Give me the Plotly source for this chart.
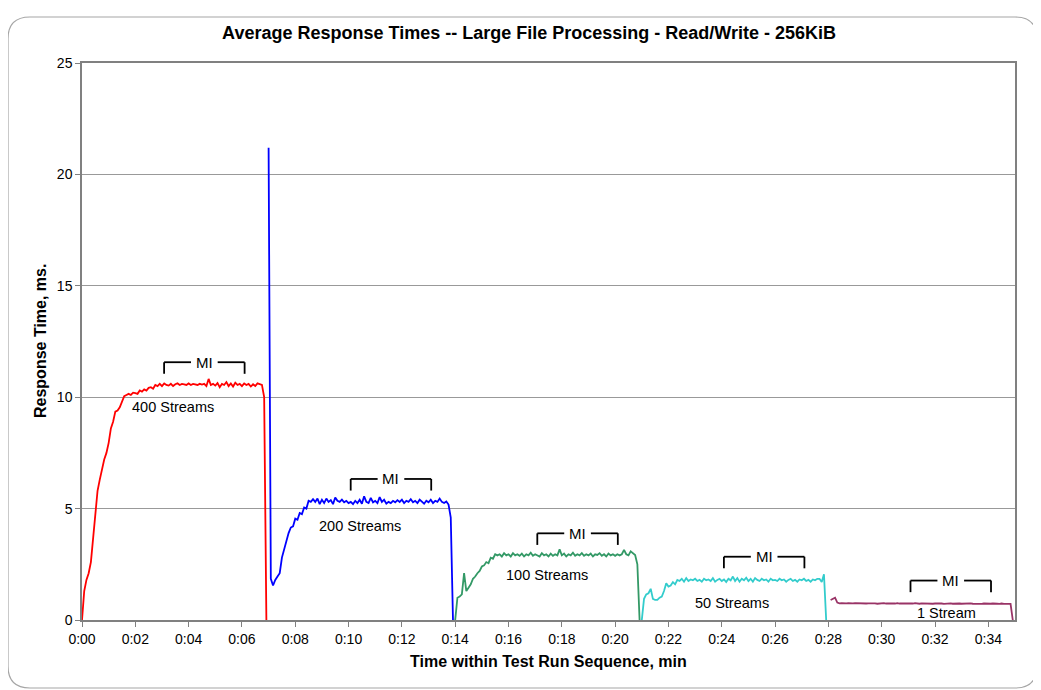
import plotly.graph_objects as go

# ---------------- data (5-second samples, minutes 0..6 of each 7-minute stage) ----------------
sample_step_s = 5
stage_length_min = 7

stream_names = ["400 Streams", "200 Streams", "100 Streams", "50 Streams", "1 Stream"]
stream_colors = ["#FF0000", "#0000FF", "#339966", "#33CCCC", "#993366"]

resp_400 = [
    0, 1.3, 1.8, 2.1, 2.6, 3.8, 5.0, 5.8, 6.3, 6.8, 7.2, 7.5,
    7.95, 8.6, 8.9, 9.35, 9.4, 9.55, 9.8, 10.05, 10.1, 10.15, 10.1, 10.2,
    10.18, 10.15, 10.3, 10.25, 10.35, 10.3, 10.42, 10.45, 10.38, 10.55, 10.5, 10.6,
    10.5, 10.62, 10.55, 10.52, 10.6, 10.5, 10.58, 10.62, 10.55, 10.6, 10.58, 10.55,
    10.62, 10.55, 10.6, 10.58, 10.55, 10.6, 10.57, 10.6, 10.5, 10.82, 10.55, 10.6,
    10.52, 10.63, 10.45, 10.6, 10.55, 10.68, 10.5, 10.62, 10.48, 10.65, 10.55, 10.6,
    10.5, 10.62, 10.55, 10.6, 10.48, 10.58, 10.5, 10.62, 10.6, 10.55, 10.0, 0,
]
resp_200 = [
    21.2, 1.85, 1.55, 1.8, 1.95, 2.1, 2.8, 3.2, 3.5, 3.9, 4.15, 4.2,
    4.55, 4.5, 4.8, 4.75, 5.05, 5.0, 5.35, 5.3, 5.42, 5.3, 5.45, 5.2,
    5.4, 5.25, 5.45, 5.3, 5.38, 5.2, 5.5, 5.35, 5.3, 5.4, 5.28, 5.35,
    5.25, 5.3, 5.2, 5.35, 5.25, 5.4, 5.22, 5.55, 5.3, 5.25, 5.48, 5.28,
    5.35, 5.25, 5.52, 5.3, 5.4, 5.22, 5.3, 5.25, 5.35, 5.28, 5.38, 5.3,
    5.4, 5.25, 5.35, 5.3, 5.42, 5.28, 5.35, 5.25, 5.4, 5.3, 5.22, 5.35,
    5.28, 5.4, 5.25, 5.35, 5.3, 5.45, 5.3, 5.25, 5.32, 5.18, 4.6, 0,
]
resp_100 = [
    0, 1.0, 1.05, 1.15, 2.1, 1.3, 1.45, 1.6, 1.85, 1.95, 2.1, 2.2,
    2.4, 2.45, 2.6, 2.55, 2.8, 2.75, 2.95, 2.9, 2.95, 2.85, 3.0, 2.9,
    2.95, 2.85, 3.0, 2.9, 2.95, 2.88, 2.98, 2.85, 2.95, 2.9, 3.02, 2.88,
    2.95, 2.9, 2.85, 3.0, 2.9, 2.95, 2.85, 2.98, 2.88, 2.95, 2.9, 3.17,
    2.9, 2.98, 2.85, 2.95, 2.9, 3.02, 2.88, 2.95, 2.9, 3.0, 2.88, 2.95,
    2.9, 2.98, 2.85, 2.95, 2.92, 3.0, 2.88, 2.95, 2.85, 2.98, 2.9, 2.95,
    2.88, 2.95, 2.9, 2.95, 3.15, 2.95, 2.9, 3.08, 3.0, 2.92, 2.5, 0,
]
resp_50 = [
    0, 0.95, 1.15, 1.2, 1.4, 0.95, 0.9, 0.9, 1.0, 1.05, 1.3, 1.65,
    1.5, 1.55, 1.7, 1.6, 1.8, 1.75, 1.85, 1.72, 1.88, 1.75, 1.82, 1.78,
    1.85, 1.75, 1.8, 1.72, 1.85, 1.78, 1.82, 1.75, 1.88, 1.72, 1.8, 1.85,
    1.75, 1.82, 1.7, 1.85, 1.78, 1.95, 1.75, 1.88, 1.72, 1.85, 1.78, 1.9,
    1.75, 1.85, 1.72, 1.88, 1.8, 1.75, 1.85, 1.78, 1.82, 1.72, 1.85, 1.78,
    1.8, 1.75, 1.85, 1.78, 1.82, 1.72, 1.8, 1.85, 1.75, 1.8, 1.72, 1.82,
    1.78, 1.85, 1.75, 1.8, 1.72, 1.82, 1.78, 1.85, 1.85, 1.7, 2.05, 0,
]
resp_1 = [
    None, 0.9, 0.95, 1.0, 0.78, 0.75, 0.76, 0.74, 0.75, 0.76, 0.74, 0.75,
    0.76, 0.75, 0.74, 0.76, 0.75, 0.74, 0.75, 0.76, 0.74, 0.75, 0.73, 0.75,
    0.74, 0.76, 0.74, 0.75, 0.73, 0.75, 0.74, 0.76, 0.74, 0.73, 0.75, 0.74,
    0.75, 0.73, 0.74, 0.76, 0.74, 0.73, 0.75, 0.74, 0.73, 0.75, 0.74, 0.73,
    0.74, 0.75, 0.73, 0.74, 0.72, 0.74, 0.73, 0.75, 0.73, 0.74, 0.72, 0.74,
    0.73, 0.74, 0.72, 0.73, 0.75, 0.73, 0.72, 0.74, 0.73, 0.72, 0.74, 0.73,
    0.72, 0.73, 0.74, 0.72, 0.73, 0.72, 0.74, 0.72, 0.73, 0.72, 0.72, 0,
]
series_values = [resp_400, resp_200, resp_100, resp_50, resp_1]

# measurement interval (MI) bracket, minutes relative to stage start, and bracket top level (ms)
mi_start_rel = 3.08
mi_end_rel = 6.10
mi_top = [11.57, 6.33, 3.89, 2.84, 1.77]

# stream label positions (minutes, ms)
label_x = [3.43, 10.43, 17.44, 24.39, 32.44]
label_y = [9.54, 4.22, 2.02, 0.75, 0.30]

x_tick_vals = [0, 2, 4, 6, 8, 10, 12, 14, 16, 18, 20, 22, 24, 26, 28, 30, 32, 34]
x_tick_text = ["0:00", "0:02", "0:04", "0:06", "0:08", "0:10", "0:12", "0:14", "0:16",
               "0:18", "0:20", "0:22", "0:24", "0:26", "0:28", "0:30", "0:32", "0:34"]
y_tick_vals = [0, 5, 10, 15, 20, 25]

# ---------------- figure ----------------
FONT = "Liberation Sans, Arial, sans-serif"
OFF = 8                      # page body margin offset
FIG_W, FIG_H = 1033, 682
L, R, T, B = 82, 1015, 63, 620   # plot area in page pixels

fig = go.Figure()

for k, (name, color, vals) in enumerate(zip(stream_names, stream_colors, series_values)):
    xs = [k * stage_length_min + i * sample_step_s / 60.0 for i in range(len(vals))]
    fig.add_trace(go.Scatter(x=xs, y=vals, mode="lines", name=name,
                             line=dict(color=color, width=1.8), connectgaps=False,
                             showlegend=False, hoverinfo="x+y"))

shapes = []
annotations = []
leg = 0.52      # bracket leg length (ms)
gap = 0.50      # half gap in top line for the "MI" text (minutes)
for k in range(5):
    x0 = k * stage_length_min + mi_start_rel
    x1 = k * stage_length_min + mi_end_rel
    xm = (x0 + x1) / 2
    yt = mi_top[k]
    lc = dict(color="black", width=1.8)
    shapes += [
        dict(type="line", xref="x", yref="y", x0=x0, x1=x0, y0=yt - leg, y1=yt, line=lc),
        dict(type="line", xref="x", yref="y", x0=x1, x1=x1, y0=yt - leg, y1=yt, line=lc),
        dict(type="line", xref="x", yref="y", x0=x0, x1=xm - gap, y0=yt, y1=yt, line=lc),
        dict(type="line", xref="x", yref="y", x0=xm + gap, x1=x1, y0=yt, y1=yt, line=lc),
    ]
    annotations.append(dict(x=xm, y=yt, xref="x", yref="y", text="MI", showarrow=False,
                            font=dict(family=FONT, size=15, color="black"),
                            xanchor="center", yanchor="middle"))
    annotations.append(dict(x=label_x[k], y=label_y[k], xref="x", yref="y",
                            text=stream_names[k], showarrow=False,
                            font=dict(family=FONT, size=14.5, color="black"),
                            xanchor="center", yanchor="middle"))

# outer rounded frame (page pixel -> paper conversion)
def px(x):
    return (x - L) / (R - L)
def py(y):
    return (B - y) / (B - T)
fx0, fx1, fy0, fy1, r = 8, 1037, 17, 688, 22
path = (f"M {px(fx0 + r)} {py(fy0)} L {px(fx1 - r)} {py(fy0)} "
        f"Q {px(fx1)} {py(fy0)} {px(fx1)} {py(fy0 + r)} L {px(fx1)} {py(fy1 - r)} "
        f"Q {px(fx1)} {py(fy1)} {px(fx1 - r)} {py(fy1)} L {px(fx0 + r)} {py(fy1)} "
        f"Q {px(fx0)} {py(fy1)} {px(fx0)} {py(fy1 - r)} L {px(fx0)} {py(fy0 + r)} "
        f"Q {px(fx0)} {py(fy0)} {px(fx0 + r)} {py(fy0)} Z")
shapes.append(dict(type="path", xref="paper", yref="paper", path=path,
                   line=dict(color="#A6A6A6", width=1.2), layer="below"))

annotations.append(dict(x=0.5, y=py(661), xref="paper", yref="paper",
                        text="<b>Time within Test Run Sequence, min</b>", showarrow=False,
                        font=dict(family=FONT, size=16, color="black"),
                        xanchor="center", yanchor="middle"))
annotations.append(dict(x=px(40), y=py(341), xref="paper", yref="paper",
                        text="<b>Response Time, ms.</b>", showarrow=False, textangle=-90,
                        font=dict(family=FONT, size=16, color="black"),
                        xanchor="center", yanchor="middle"))

fig.update_layout(
    width=FIG_W, height=FIG_H,
    margin=dict(l=L - OFF, r=FIG_W - (R - OFF), t=T - OFF, b=FIG_H - (B - OFF), pad=0),
    paper_bgcolor="white", plot_bgcolor="white",
    title=dict(text="<b>Average Response Times -- Large File Processing - Read/Write - 256KiB</b>",
               x=(529 - OFF) / FIG_W, xref="container", xanchor="center",
               y=1 - (33 - OFF) / FIG_H, yref="container", yanchor="middle",
               font=dict(family=FONT, size=18, color="black")),
    shapes=shapes, annotations=annotations,
    showlegend=False,
)
fig.update_xaxes(range=[0, 35], tickvals=x_tick_vals, ticktext=x_tick_text,
                 showgrid=False, zeroline=False,
                 showline=True, linecolor="#808080", linewidth=1.5, mirror=True,
                 ticks="outside", ticklen=5, tickcolor="#808080", tickwidth=1,
                 tickfont=dict(family=FONT, size=14, color="black"))
fig.update_yaxes(range=[0, 25], tickvals=y_tick_vals,
                 showgrid=True, gridcolor="#999999", gridwidth=1, zeroline=False,
                 showline=True, linecolor="#808080", linewidth=1.5, mirror=True,
                 ticks="outside", ticklen=5, tickcolor="#808080", tickwidth=1,
                 tickfont=dict(family=FONT, size=14, color="black"))

fig.write_html("out.html")
